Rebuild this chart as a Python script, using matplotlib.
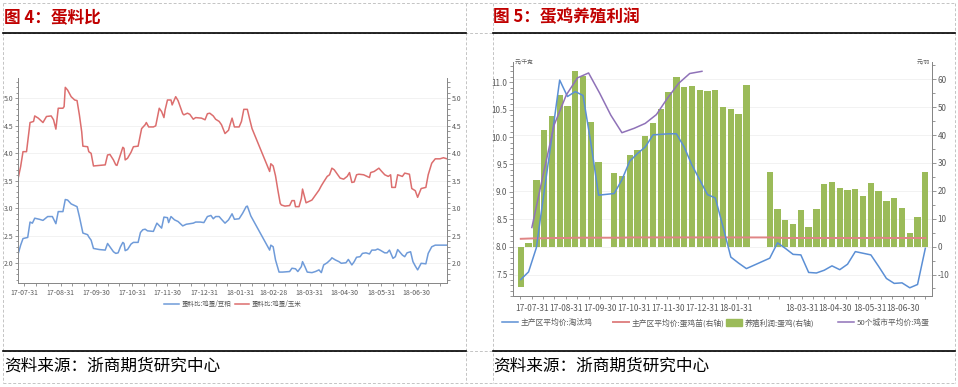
import numpy as np
import matplotlib
matplotlib.use("Agg")
import matplotlib.pyplot as plt
import matplotlib.dates as mdates
from matplotlib.lines import Line2D
from matplotlib.patches import Patch
from matplotlib.ticker import MultipleLocator, FormatStrFormatter

plt.rcParams['font.family'] = ['Noto Sans CJK SC', 'DejaVu Sans']
plt.rcParams['axes.unicode_minus'] = False

# ---------------- 图4 蛋料比 (daily data, days counted from 2017-07-26)
BASE4 = np.datetime64('2017-07-26')
soy_days = [0, 2, 4, 8, 10, 12, 14, 18, 21, 25, 29, 32, 34, 38, 40, 42, 45, 48, 50, 52,
            55, 59, 60, 62, 64, 69, 74, 76, 78, 81, 83, 85, 87, 89, 90, 91, 93, 96, 98, 102,
            104, 106, 108, 110, 115, 118, 122, 124, 127, 128, 130, 133, 136, 140, 143, 146, 149, 151, 155, 158,
            161, 164, 166, 168, 171, 173, 176, 179, 182, 184, 188, 191, 194, 195, 198, 214, 215, 217, 219, 222,
            225, 231, 233, 236, 238, 241, 242, 244, 246, 250, 253, 256, 258, 260, 263, 266, 267, 270, 273, 275,
            279, 281, 284, 286, 288, 291, 293, 296, 299, 301, 304, 306, 308, 312, 314, 316, 319, 321, 323, 327,
            329, 331, 334, 336, 338, 340, 343, 347, 349, 352, 355, 361, 365]
soy_ratio = [2.18, 2.33, 2.45, 2.47, 2.75, 2.73, 2.82, 2.80, 2.78, 2.85, 2.85, 2.72, 2.94, 2.94, 3.16, 3.15, 3.08, 3.05, 3.03, 2.85,
             2.55, 2.52, 2.48, 2.42, 2.27, 2.25, 2.24, 2.36, 2.30, 2.21, 2.18, 2.19, 2.30, 2.38, 2.36, 2.23, 2.25, 2.35, 2.38, 2.38,
             2.56, 2.61, 2.62, 2.59, 2.58, 2.73, 2.64, 2.84, 2.83, 2.74, 2.85, 2.79, 2.76, 2.68, 2.71, 2.72, 2.73, 2.75, 2.75, 2.74,
             2.85, 2.87, 2.81, 2.85, 2.85, 2.80, 2.73, 2.79, 2.90, 2.80, 2.81, 2.91, 3.03, 3.04, 2.86, 2.24, 2.33, 2.30, 2.06, 1.84,
             1.84, 1.85, 1.91, 1.90, 1.85, 1.94, 2.03, 1.94, 1.84, 1.83, 1.85, 1.88, 1.83, 1.97, 2.01, 2.07, 2.10, 2.06, 2.03, 2.00,
             2.01, 2.07, 1.97, 2.03, 2.11, 2.12, 2.18, 2.19, 2.17, 2.24, 2.24, 2.26, 2.24, 2.19, 2.19, 2.24, 2.09, 2.12, 2.25, 2.15,
             2.12, 2.19, 2.21, 2.03, 1.95, 1.88, 2.00, 1.99, 2.18, 2.30, 2.33, 2.33, 2.33]

corn_days = [0, 2, 4, 7, 10, 13, 14, 17, 21, 24, 28, 30, 32, 34, 38, 39, 40, 42, 45, 48,
             50, 52, 54, 55, 59, 60, 62, 64, 69, 74, 76, 78, 81, 83, 84, 86, 89, 90, 91, 93,
             96, 98, 102, 105, 108, 109, 111, 115, 117, 120, 122, 124, 125, 127, 130, 131, 134, 136, 140, 141,
             144, 146, 149, 151, 156, 159, 161, 163, 166, 168, 171, 173, 176, 179, 180, 182, 184, 188, 190, 192,
             195, 197, 199, 214, 215, 217, 219, 221, 223, 224, 227, 231, 233, 235, 236, 239, 241, 242, 245, 247,
             250, 253, 256, 258, 260, 263, 265, 267, 269, 272, 274, 277, 280, 282, 284, 286, 288, 290, 294, 299,
             300, 303, 305, 307, 309, 312, 315, 317, 318, 321, 323, 327, 329, 333, 335, 338, 340, 343, 347, 349,
             352, 355, 359, 362, 365]
corn_ratio = [3.56, 3.76, 4.03, 4.03, 4.56, 4.58, 4.68, 4.64, 4.56, 4.67, 4.68, 4.61, 4.44, 4.82, 4.82, 4.85, 5.20, 5.15, 5.03, 4.97,
              4.96, 4.70, 4.39, 4.13, 4.12, 4.03, 4.00, 3.77, 3.78, 3.79, 3.97, 3.98, 3.88, 3.79, 3.78, 3.91, 4.11, 4.09, 3.88, 3.91,
              4.02, 4.12, 4.13, 4.45, 4.52, 4.56, 4.48, 4.48, 4.50, 4.82, 4.76, 4.65, 4.79, 4.97, 4.97, 4.88, 5.03, 4.96, 4.72, 4.70,
              4.73, 4.71, 4.62, 4.65, 4.64, 4.61, 4.72, 4.73, 4.68, 4.62, 4.58, 4.52, 4.36, 4.42, 4.50, 4.64, 4.48, 4.48, 4.58, 4.80,
              4.80, 4.62, 4.45, 3.67, 3.81, 3.77, 3.59, 3.33, 3.09, 3.06, 3.04, 3.05, 3.14, 3.14, 3.03, 3.03, 3.18, 3.35, 3.10, 3.12,
              3.15, 3.24, 3.33, 3.41, 3.48, 3.58, 3.61, 3.73, 3.70, 3.61, 3.55, 3.53, 3.58, 3.65, 3.47, 3.48, 3.61, 3.62, 3.61, 3.56,
              3.65, 3.67, 3.70, 3.73, 3.68, 3.61, 3.58, 3.61, 3.38, 3.38, 3.61, 3.58, 3.64, 3.62, 3.36, 3.32, 3.20, 3.36, 3.38, 3.61,
              3.82, 3.90, 3.90, 3.92, 3.90]

# ---------------- 图5 蛋鸡养殖利润 (weekly, Fridays from 2017-07-21)
WEEK0 = np.datetime64('2017-07-21')
nan = np.nan
cull_hen = [7.40, 7.54, 7.98, 9.0, 10.0, 11.04, 10.74, 10.83, 10.76, 9.9,
            8.94, nan, 8.97, 9.22, 9.56, 9.70, 9.82, 10.04, 10.05, 10.06,
            10.06, 9.82, 9.49, 9.22, 8.95, 8.89, 8.36, 7.81, 7.70, 7.60,
            nan, nan, 7.79, 8.07, 7.97, 7.86, 7.85, 7.53, 7.52, 7.57,
            7.65, 7.58, 7.68, 7.91, 7.88, 7.85, 7.64, 7.42, 7.33, 7.34,
            7.25, 7.31, 7.97]
chick_price = [2.8, 2.9, 3.0, 3.0, 3.1, 3.1, 3.1, 3.2, 3.2, 3.2,
               3.2, nan, 3.2, 3.2, 3.3, 3.3, 3.3, 3.3, 3.3, 3.3,
               3.3, 3.3, 3.3, 3.3, 3.3, 3.3, 3.3, 3.3, 3.3, 3.3,
               nan, nan, 3.3, 3.2, 3.1, 3.1, 3.1, 3.1, 3.1, 3.1,
               3.1, 3.1, 3.1, 3.1, 3.1, 3.1, 3.2, 3.1, 3.1, 3.1,
               3.1, 3.1, 3.1]
layer_profit = [-14.3, 1.2, 23.8, 41.8, 46.7, 54.4, 50.4, 63.1, 61.3, 44.6,
                30.2, nan, 26.4, 25.3, 33.0, 34.5, 39.5, 44.2, 49.5, 55.6,
                60.9, 57.2, 57.5, 56.3, 55.9, 56.0, 49.9, 49.2, 47.4, 57.8,
                nan, nan, 26.8, 13.6, 9.4, 8.1, 13.1, 6.9, 13.5, 22.3,
                23.3, 21.0, 20.2, 20.7, 18.0, 22.8, 20.1, 16.2, 17.3, 13.9,
                4.8, 10.5, 26.8]
egg_dates = ['2017-07-31', '2017-08-10', '2017-08-20', '2017-08-31', '2017-09-10', '2017-09-20',
             '2017-09-30', '2017-10-10', '2017-10-20', '2017-10-31', '2017-11-10', '2017-11-20',
             '2017-11-30', '2017-12-10', '2017-12-20', '2017-12-31']
egg_price = [8.35, 9.3, 10.22, 10.77, 11.08, 11.17, 10.80, 10.40, 10.08, 10.16,
             10.25, 10.41, 10.71, 10.98, 11.16, 11.20]

month_labels4 = ['17-07-31', '17-08-31', '17-09-30', '17-10-31', '17-11-30', '17-12-31',
                 '18-01-31', '18-02-28', '18-03-31', '18-04-30', '18-05-31', '18-06-30']
month_labels5 = ['17-07-31', '17-08-31', '17-09-30', '17-10-31', '17-11-30', '17-12-31',
                 '18-01-31', '18-03-31', '18-04-30', '18-05-31', '18-06-30']

W, H = 958, 387
TICK = '#868686'
LAB = '#595959'


def dekads(first, last):
    out = []
    for m in np.arange(np.datetime64('2017-07'), np.datetime64('2018-08')):
        d0 = m.astype('datetime64[D]')
        end = (m + 1).astype('datetime64[D]') - 1
        for d in (d0 + 9, d0 + 19, end):
            if first <= d <= last:
                out.append(d)
    return out


def date_ticks(ax, first, last, labels, size):
    ticks = dekads(first, last)
    names = []
    for d in ticks:
        s = str(d)[2:]
        names.append(s if s in labels else '')
    ax.set_xticks(mdates.date2num(ticks))
    ax.set_xticklabels(names)
    ax.set_xlim(mdates.date2num(first), mdates.date2num(last))
    ax.tick_params(axis='x', length=2.5, width=0.6, color=TICK, labelsize=size,
                   labelcolor=LAB, pad=1.5)


def style_spines(ax):
    ax.spines['top'].set_visible(False)
    for s in ('left', 'right', 'bottom'):
        ax.spines[s].set_color(TICK)
        ax.spines[s].set_linewidth(0.7)


fig = plt.figure(figsize=(W / 100, H / 100), dpi=100)

# page frame (pixel coords)
bg = fig.add_axes([0, 0, 1, 1])
bg.set_xlim(0, W)
bg.set_ylim(H, 0)
bg.axis('off')
bg.set_zorder(-5)
dash = dict(color='#c4c4c4', lw=0.7, ls=(0, (3, 2)))
for x in (3.3, 466, 493, 955):
    bg.plot([x, x], [2.7, 383], **dash)
for y in (2.7, 33, 351, 383):
    bg.plot([3.3, 955], [y, y], **dash)
for y in (33, 351):
    bg.plot([3.3, 466], [y, y], color='black', lw=1.2)
    bg.plot([493, 955], [y, y], color='black', lw=1.2)
bg.text(4, 17.5, '图 4：蛋料比', fontsize=12, fontweight='bold', color='#C00000', va='center')
bg.text(493.5, 17.5, '图 5：蛋鸡养殖利润', fontsize=12, fontweight='bold', color='#C00000', va='center')
bg.text(4, 366, '资料来源：浙商期货研究中心', fontsize=12, va='center')
bg.text(493.5, 366, '资料来源：浙商期货研究中心', fontsize=12, va='center')

# ---------------- left chart
l, r, t, b = 18.3, 447, 78, 283.3
ax4 = fig.add_axes([l / W, 1 - b / H, (r - l) / W, (b - t) / H])
d_soy = BASE4 + np.array(soy_days).astype('timedelta64[D]')
d_corn = BASE4 + np.array(corn_days).astype('timedelta64[D]')
ax4.plot(mdates.date2num(d_soy), soy_ratio, color='#6f9bd9', lw=1.1, label='蛋料比:鸡蛋/豆粕')
ax4.plot(mdates.date2num(d_corn), corn_ratio, color='#dc6e6e', lw=1.1, label='蛋料比:鸡蛋/玉米')
ax4.set_ylim(1.636, 5.37)
ax4.yaxis.set_major_locator(MultipleLocator(0.5))
ax4.yaxis.set_minor_locator(MultipleLocator(0.1))
ax4.yaxis.set_major_formatter(FormatStrFormatter('%.1f'))
ax4.tick_params(axis='y', which='both', left=True, right=True, labelleft=True, labelright=True,
                color=TICK, width=0.6, labelsize=5, labelcolor=LAB, pad=1)
ax4.tick_params(axis='y', which='major', length=2.5)
ax4.tick_params(axis='y', which='minor', length=1.8)
ax4.grid(axis='y', color='#f0f0f0', lw=0.6)
ax4.set_axisbelow(True)
date_ticks(ax4, BASE4, BASE4 + 365, month_labels4, 5)
style_spines(ax4)
h4, lab4 = ax4.get_legend_handles_labels()
fig.legend(h4, lab4, loc='center', bbox_to_anchor=(233 / W, 1 - 304 / H), ncol=2, frameon=False,
           fontsize=4.7, handlelength=2.2, columnspacing=0.6, handletextpad=0.4,
           labelcolor=LAB, borderpad=0)

# ---------------- right chart
l, r, t, b = 513, 932, 62, 296
ax5 = fig.add_axes([l / W, 1 - b / H, (r - l) / W, (b - t) / H])
ax5r = ax5.twinx()
wk = WEEK0 + (7 * np.arange(len(layer_profit))).astype('timedelta64[D]')
wk_num = mdates.date2num(wk)
profit = np.array(layer_profit)
ax5r.bar(wk_num, profit, width=5.7, color='#9bbb59', zorder=2)
chick = np.array(chick_price)
m = ~np.isnan(chick)
ax5r.plot(wk_num[m], chick[m], color='#e08585', lw=1.4, zorder=3)
hen = np.array(cull_hen)
m = ~np.isnan(hen)
ax5.plot(wk_num[m], hen[m], color='#5b8fd5', lw=1.1)
ax5.plot(mdates.date2num(np.array(egg_dates, dtype='datetime64[D]')), egg_price, color='#8f72b8', lw=1.1)
ax5.set_zorder(ax5r.get_zorder() + 1)
ax5.patch.set_visible(False)

ax5.set_ylim(7.10, 11.37)
ax5r.set_ylim(-17.7, 66.2)
ax5.yaxis.set_major_locator(MultipleLocator(0.5))
ax5.yaxis.set_minor_locator(MultipleLocator(0.1))
ax5.yaxis.set_major_formatter(FormatStrFormatter('%.1f'))
ax5r.yaxis.set_major_locator(MultipleLocator(10))
ax5r.yaxis.set_minor_locator(MultipleLocator(5))
ax5r.yaxis.set_major_formatter(FormatStrFormatter('%d'))
for a in (ax5, ax5r):
    a.tick_params(axis='y', which='both', color=TICK, width=0.6, labelsize=5.8, labelcolor=LAB, pad=1)
    a.tick_params(axis='y', which='major', length=3)
    a.tick_params(axis='y', which='minor', length=2)
    style_spines(a)
ax5r.grid(axis='y', color='#f0f0f0', lw=0.6)
ax5r.set_axisbelow(True)
date_ticks(ax5, np.datetime64('2017-07-14'), np.datetime64('2018-07-26'), month_labels5, 6)
ax5.tick_params(axis='x', pad=3)
ax5.text(0.004, 1.0, '元/千克', transform=ax5.transAxes, fontsize=4, va='center', ha='left', color=LAB)
ax5.text(0.996, 1.0, '元/羽', transform=ax5.transAxes, fontsize=4, va='center', ha='right', color=LAB)

handles5 = [Line2D([], [], color='#5b8fd5', lw=1.1),
            Line2D([], [], color='#e08585', lw=1.4),
            Patch(color='#9bbb59'),
            Line2D([], [], color='#8f72b8', lw=1.1)]
labels5 = ['主产区平均价:淘汰鸡', '主产区平均价:蛋鸡苗(右轴)', '养殖利润:蛋鸡(右轴)', '50个城市平均价:鸡蛋']
starts5 = [502, 613, 726, 838]
for h, lab, x in zip(handles5, labels5, starts5):
    fig.legend([h], [lab], loc='center left', bbox_to_anchor=(x / W, 1 - 323 / H), frameon=False,
               fontsize=5.6, handlelength=2.0, handleheight=1.15, handletextpad=0.4,
               borderpad=0, borderaxespad=0, labelcolor=LAB)

fig.savefig('out.png', dpi=100)
